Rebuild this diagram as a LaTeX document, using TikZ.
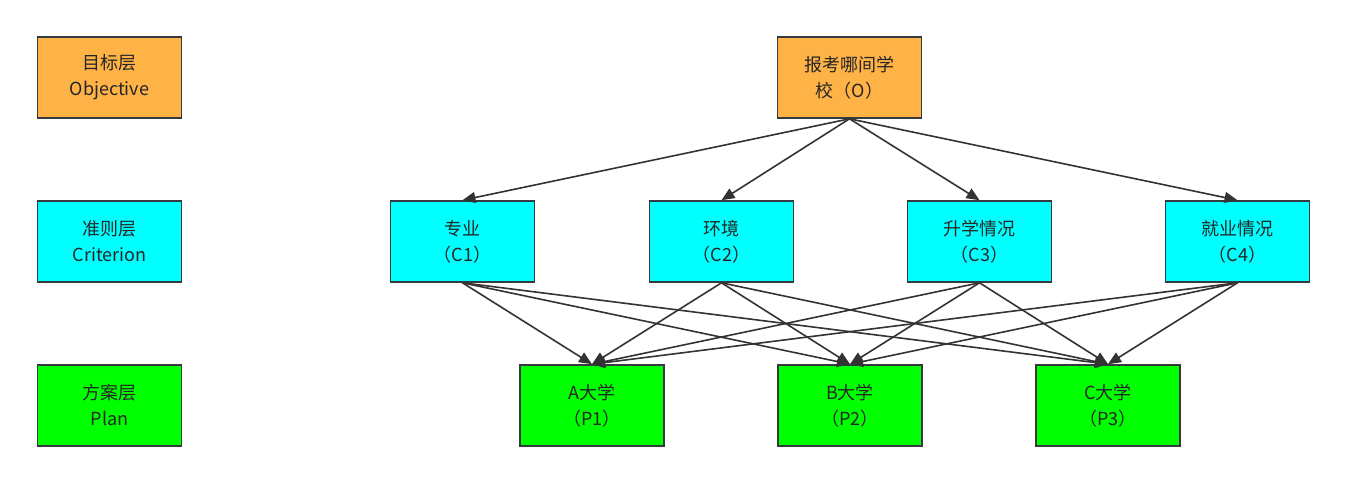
\documentclass[tikz,border=0pt]{standalone}
\usepackage{fontspec}
\setmainfont{Noto Sans CJK SC}
\usetikzlibrary{arrows.meta}
\definecolor{borderc}{HTML}{36393D}
\definecolor{orangec}{HTML}{FFB347}
\definecolor{cyanc}{HTML}{00FFFF}
\definecolor{greenc}{HTML}{00FF00}
\tikzset{
  box/.style={draw=borderc,line width=1.6pt,minimum width=144pt,minimum height=81pt,
    align=center,inner sep=0pt,font=\fontsize{18}{26}\selectfont,text=black!85},
  obox/.style={box,fill=orangec},
  cbox/.style={box,fill=cyanc},
  gbox/.style={box,fill=greenc},
  arr/.style={draw=black!80,line width=1.6pt,-{Triangle[length=13pt,width=11pt]}}
}
\begin{document}
\begin{tikzpicture}[x=1pt,y=-1pt]
\useasboundingbox (0,0) rectangle (1347,484);
\node[obox] (lo) at (109.5,77.5) {目标层\\Objective};
\node[cbox] (lc) at (109.5,241.5) {准则层\\Criterion};
\node[gbox] (lp) at (109.5,405.5) {方案层\\Plan};
\node[obox] (o) at (849.5,77.5) {报考哪间学\\校（O）};
\node[cbox] (c1) at (462.5,241.5) {专业\\（C1）};
\node[cbox] (c2) at (721.5,241.5) {环境\\（C2）};
\node[cbox] (c3) at (979.5,241.5) {升学情况\\（C3）};
\node[cbox] (c4) at (1237.5,241.5) {就业情况\\（C4）};
\node[gbox] (p1) at (592,405.5) {A大学\\（P1）};
\node[gbox] (p2) at (850,405.5) {B大学\\（P2）};
\node[gbox] (p3) at (1108,405.5) {C大学\\（P3）};
\foreach \c in {c1,c2,c3,c4} \draw[arr] (o.south) -- (\c.north);
\foreach \c in {c1,c2,c3,c4} \foreach \p in {p1,p2,p3} \draw[arr] (\c.south) -- (\p.north);
\end{tikzpicture}
\end{document}
